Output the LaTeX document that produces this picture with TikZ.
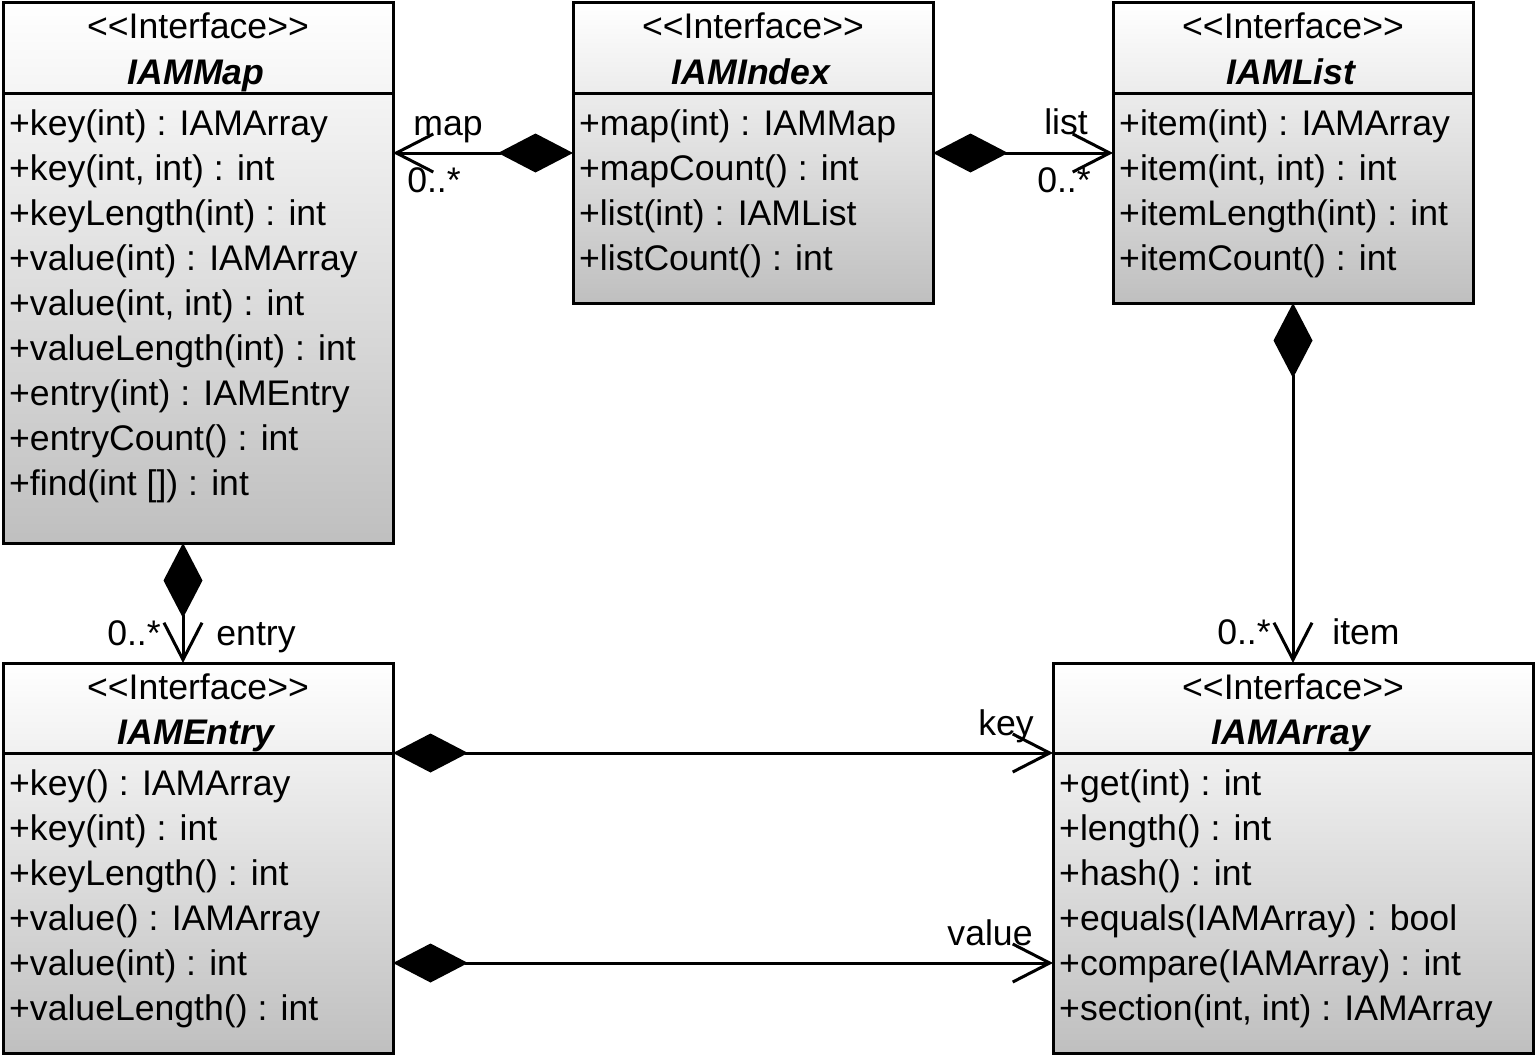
\documentclass[tikz,border=0pt]{standalone}
\usepackage{fontspec}
\setmainfont{Liberation Sans}
\usetikzlibrary{arrows.meta}

\tikzset{
    iface/.style={draw, line width=3pt, outer sep=0pt, inner sep=0pt, top color=white, bottom color=black!25},
    txt/.style={inner sep=0pt, anchor=base, font=\fontsize{35.6}{42}\selectfont},
    optxt/.style={txt, anchor=base west},
    cname/.style={txt, font=\fontsize{35.6}{42}\selectfont\bfseries\itshape},
    comp/.style={line width=3pt, {Diamond[length=75pt,width=39pt]}-{Straight Barb[length=37pt,width=38pt]}},
}

\begin{document}
\begin{tikzpicture}[x=1pt, y=-1pt]
        \useasboundingbox (0,0) rectangle (1538,1057);

        % class boxes
        \node[iface, minimum width=390pt, minimum height=540pt] (map) at (198,273) {};
        \node[iface, minimum width=360pt, minimum height=300pt] (index) at (753,153) {};
        \node[iface, minimum width=360pt, minimum height=300pt] (list) at (1293,153) {};
        \node[iface, minimum width=390pt, minimum height=390pt] (entry) at (198,858) {};
        \node[iface, minimum width=480pt, minimum height=390pt] (array) at (1293,858) {};

        \foreach \b in {map,index,list,entry,array}
            \draw[line width=3pt] ([yshift=-90pt]\b.north west) -- ([yshift=-90pt]\b.north east);

        % headers
        \node[txt] (mapst) at (198,39) {<{}<Interface>{}>};
        \node[cname] (mapname) at (196,84) {IAMMap};
        \node[txt] (indexst) at (753,39) {<{}<Interface>{}>};
        \node[cname] (indexname) at (751,84) {IAMIndex};
        \node[txt] (listst) at (1293,39) {<{}<Interface>{}>};
        \node[cname] (listname) at (1291,84) {IAMList};
        \node[txt] (entryst) at (198,699) {<{}<Interface>{}>};
        \node[cname] (entryname) at (196,744) {IAMEntry};
        \node[txt] (arrayst) at (1293,699) {<{}<Interface>{}>};
        \node[cname] (arrayname) at (1291,744) {IAMArray};

        % operations
        \foreach \op [count=\i] in {+key(int) : IAMArray, {+key(int, int) : int}, +keyLength(int) : int,
                +value(int) : IAMArray, {+value(int, int) : int}, +valueLength(int) : int,
                +entry(int) : IAMEntry, +entryCount() : int, +find(int []) : int}
            \node[optxt] (mapop\i) at (9,90+45*\i) {\op};
        \foreach \op [count=\i] in {+map(int) : IAMMap, +mapCount() : int, +list(int) : IAMList, +listCount() : int}
            \node[optxt] (indexop\i) at (579,90+45*\i) {\op};
        \foreach \op [count=\i] in {+item(int) : IAMArray, {+item(int, int) : int}, +itemLength(int) : int, +itemCount() : int}
            \node[optxt] (listop\i) at (1119,90+45*\i) {\op};
        \foreach \op [count=\i] in {+key() : IAMArray, +key(int) : int, +keyLength() : int,
                +value() : IAMArray, +value(int) : int, +valueLength() : int}
            \node[optxt] (entryop\i) at (9,750+45*\i) {\op};
        \foreach \op [count=\i] in {+get(int) : int, +length() : int, +hash() : int,
                +equals(IAMArray) : bool, +compare(IAMArray) : int, {+section(int, int) : IAMArray}}
            \node[optxt] (arrayop\i) at (1059,750+45*\i) {\op};

        % compositions
        \path[draw, comp] (index.west) -- (index.west -| map.east);
        \path[draw, comp] (index.east) -- (list.west);
        \path[draw, comp] (list.south) -- (array.north);
        \path[draw, comp] ([xshift=-15pt]map.south) -- ([xshift=-15pt]entry.north);
        \path[draw, comp] ([yshift=105pt]entry.east) -- ([yshift=105pt]entry.east -| array.west);
        \path[draw, comp] ([yshift=-105pt]entry.east) -- ([yshift=-105pt]entry.east -| array.west);

        \node[txt] (lmap) at (448,135) {map};
        \node[txt] (lmapm) at (434,192) {0..*};
        \node[txt] (llist) at (1066,134) {list};
        \node[txt] (llistm) at (1064,192) {0..*};
        \node[txt] (lentrym) at (134,645) {0..*};
        \node[txt] (lentry) at (256,645) {entry};
        \node[txt] (litemm) at (1244,644) {0..*};
        \node[txt] (litem) at (1366,644) {item};
        \node[txt] (lkey) at (1006,735) {key};
        \node[txt] (lvalue) at (990,945) {value};
    \end{tikzpicture}
\end{document}
